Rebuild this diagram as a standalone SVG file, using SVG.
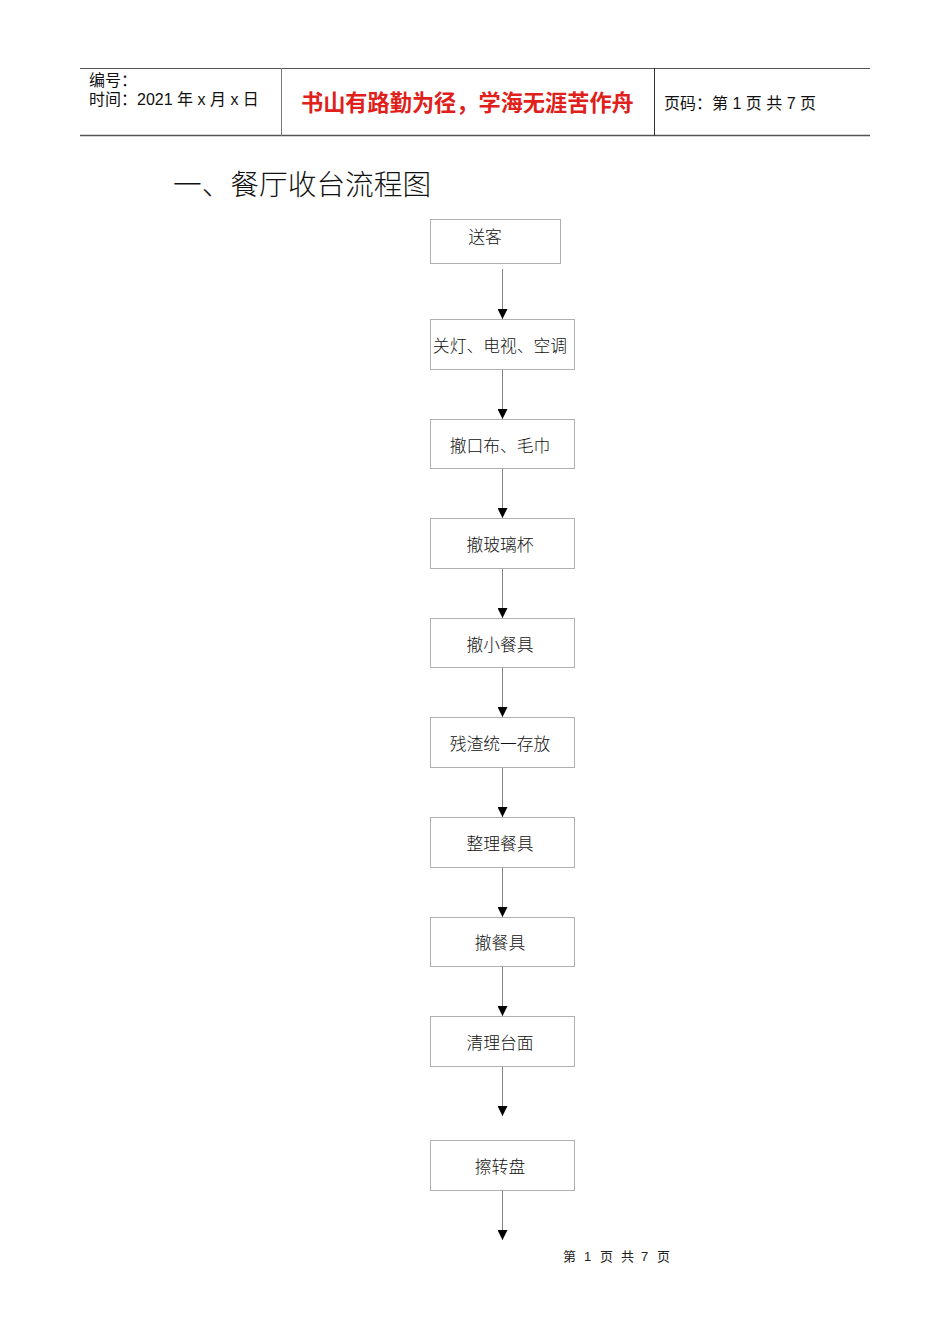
<svg xmlns="http://www.w3.org/2000/svg" width="950" height="1344" viewBox="0 0 950 1344">
<style>
.box{fill:#fff;stroke:#b0b0b0;stroke-width:1}
.lbl{font-family:"Noto Sans CJK SC",sans-serif;font-size:16.8px;font-weight:300;fill:#111;text-anchor:middle}
.hdr{font-family:"Liberation Sans","Noto Sans CJK SC",sans-serif;font-size:16px;fill:#111}
.conn{stroke:#808080;stroke-width:1;fill:none}
</style>
<defs>
<marker id="ah" markerWidth="10" markerHeight="10" refX="10" refY="5" orient="auto" markerUnits="userSpaceOnUse" viewBox="0 0 10 10">
<path d="M0,0 L10,5 L0,10 Z" fill="#000"/>
</marker>
</defs>
<g id="header">
<line x1="80" y1="68.5" x2="870" y2="68.5" stroke="#555" stroke-width="1"/>
<line x1="80" y1="135.5" x2="870" y2="135.5" stroke="#555" stroke-width="1.5"/>
<line x1="281.5" y1="68" x2="281.5" y2="136" stroke="#777" stroke-width="1"/>
<line x1="654.5" y1="68" x2="654.5" y2="136" stroke="#333" stroke-width="1"/>
<text class="hdr" x="89" y="86">编号：</text>
<text class="hdr" x="89" y="105">时间：2021 年 x 月 x 日</text>
<text x="301" y="111" font-family="Noto Sans CJK SC,sans-serif" font-size="22.2px" font-weight="bold" fill="#e0201a">书山有路勤为径，学海无涯苦作舟</text>
<text class="hdr" x="664" y="109">页码：第 1 页 共 7 页</text>
</g>
<text id="title" x="173" y="195" font-family="Noto Sans CJK SC,sans-serif" font-size="28.7px" font-weight="300" fill="#111">一、餐厅收台流程图</text>
<g id="connectors">
<line class="conn" x1="502.5" y1="269" x2="502.5" y2="319" marker-end="url(#ah)"/>
<line class="conn" x1="502.5" y1="369" x2="502.5" y2="419" marker-end="url(#ah)"/>
<line class="conn" x1="502.5" y1="468" x2="502.5" y2="518" marker-end="url(#ah)"/>
<line class="conn" x1="502.5" y1="568" x2="502.5" y2="618" marker-end="url(#ah)"/>
<line class="conn" x1="502.5" y1="667" x2="502.5" y2="717" marker-end="url(#ah)"/>
<line class="conn" x1="502.5" y1="767" x2="502.5" y2="817" marker-end="url(#ah)"/>
<line class="conn" x1="502.5" y1="867" x2="502.5" y2="917" marker-end="url(#ah)"/>
<line class="conn" x1="502.5" y1="966" x2="502.5" y2="1016" marker-end="url(#ah)"/>
<line class="conn" x1="502.5" y1="1066" x2="502.5" y2="1116" marker-end="url(#ah)"/>
<line class="conn" x1="502.5" y1="1190" x2="502.5" y2="1240" marker-end="url(#ah)"/>
</g>
<g id="n1"><rect class="box" x="430.5" y="219.5" width="130" height="44"/><text class="lbl" x="485" y="243">送客</text></g>
<g id="n2"><rect class="box" x="430.5" y="319.5" width="144" height="50"/><text class="lbl" x="500" y="352">关灯、电视、空调</text></g>
<g id="n3"><rect class="box" x="430.5" y="419.5" width="144" height="49"/><text class="lbl" x="500" y="452">撤口布、毛巾</text></g>
<g id="n4"><rect class="box" x="430.5" y="518.5" width="144" height="50"/><text class="lbl" x="500" y="551">撤玻璃杯</text></g>
<g id="n5"><rect class="box" x="430.5" y="618.5" width="144" height="49"/><text class="lbl" x="500" y="651">撤小餐具</text></g>
<g id="n6"><rect class="box" x="430.5" y="717.5" width="144" height="50"/><text class="lbl" x="500" y="750">残渣统一存放</text></g>
<g id="n7"><rect class="box" x="430.5" y="817.5" width="144" height="50"/><text class="lbl" x="500" y="850">整理餐具</text></g>
<g id="n8"><rect class="box" x="430.5" y="917.5" width="144" height="49"/><text class="lbl" x="500" y="949">撤餐具</text></g>
<g id="n9"><rect class="box" x="430.5" y="1016.5" width="144" height="50"/><text class="lbl" x="500" y="1049">清理台面</text></g>
<g id="n10"><rect class="box" x="430.5" y="1140.5" width="144" height="50"/><text class="lbl" x="500" y="1173">擦转盘</text></g>
<text id="footer" x="563 584 600 621 641 657" y="1261" font-family="Liberation Sans,Noto Sans CJK SC,sans-serif" font-size="13px" fill="#222">第1页共7页</text>
</svg>
